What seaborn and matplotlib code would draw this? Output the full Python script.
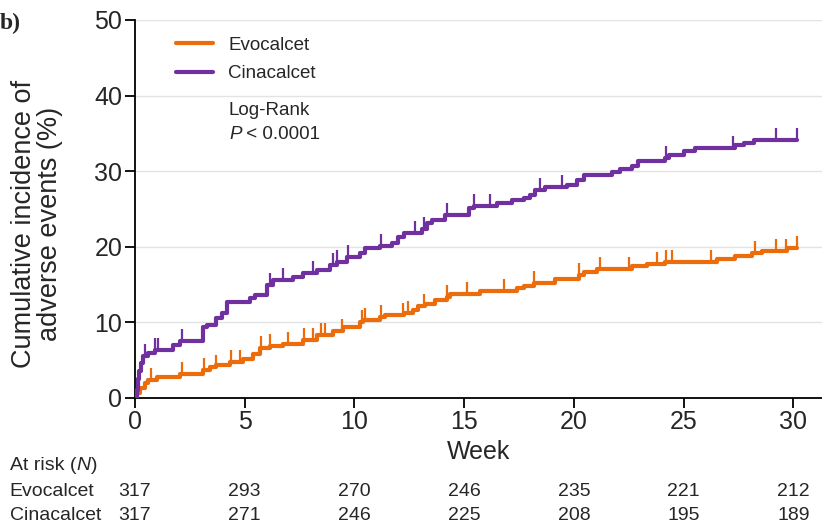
import numpy as np
import matplotlib
matplotlib.use("Agg")
import matplotlib.pyplot as plt
import matplotlib.transforms as mtransforms
from matplotlib.path import Path
import pandas as pd
import seaborn as sns

# ------------------------------
# Data
# ------------------------------
evo_t = [0, 0.08, 0.23, 0.46, 0.61, 0.99, 2.05, 3.11, 3.42, 3.72, 4.33, 4.94, 5.39, 5.7,
         6.15, 6.76, 7.67, 8.28, 9.04, 9.5, 10.26, 10.41, 11.17, 11.4, 12.24, 12.69, 12.92,
         13.22, 13.68, 14.21, 14.36, 15.73, 17.4, 17.71, 18.16, 19.15, 20.21, 20.44, 21.05,
         22.64, 23.32, 24.16, 26.51, 27.35, 28.11, 28.56, 29.7, 30.15]
evo_y = [0, 0.6, 1.3, 2.0, 2.4, 2.8, 3.2, 3.7, 4.1, 4.4, 4.7, 5.2, 5.8, 6.6,
         6.9, 7.2, 7.7, 8.3, 8.8, 9.4, 10.1, 10.3, 10.7, 11.0, 11.3, 11.6, 12.1,
         12.4, 12.9, 13.4, 13.8, 14.1, 14.5, 14.8, 15.2, 15.8, 16.3, 16.6, 17.0,
         17.4, 17.7, 18.0, 18.4, 18.8, 19.2, 19.5, 19.9, 19.9]
evo_cens = [0.73, 2.15, 3.15, 3.69, 4.4, 4.8, 5.73, 6.18, 7.0, 7.7, 8.13, 8.48, 8.66, 9.43,
            10.34, 10.49, 11.2, 12.2, 12.46, 13.19, 14.21, 15.15, 16.8, 18.19, 20.21, 21.17,
            22.51, 23.8, 24.2, 24.49, 26.24, 28.23, 29.22, 29.66, 30.15]

cin_t = [0, 0.1, 0.15, 0.2, 0.3, 0.38, 0.6, 0.9, 1.75, 2.05, 3.1, 3.27, 3.72, 3.95, 4.18,
         5.24, 5.47, 6.0, 6.3, 7.21, 7.67, 8.28, 8.89, 9.19, 9.65, 10.26, 10.49, 11.17,
         11.7, 12.01, 12.24, 13.07, 13.3, 13.53, 14.14, 15.2, 15.43, 16.49, 17.18, 17.71,
         18.01, 18.24, 18.7, 19.68, 20.14, 20.44, 21.72, 22.1, 22.64, 22.94, 24.16, 24.31,
         25.0, 25.52, 27.35, 27.73, 28.18, 30.15]
cin_y = [0, 1.0, 2.5, 3.5, 4.6, 5.5, 6.0, 6.3, 7.0, 7.5, 9.4, 9.6, 10.6, 11.2, 12.7,
         13.2, 13.6, 15.0, 15.6, 16.0, 16.5, 16.9, 17.6, 18.0, 18.7, 19.2, 19.8, 20.1,
         20.5, 21.3, 21.8, 22.4, 23.1, 23.5, 24.2, 25.1, 25.4, 25.8, 26.2, 26.5,
         26.9, 27.5, 27.9, 28.2, 28.8, 29.5, 29.9, 30.3, 30.7, 31.3, 31.8, 32.1,
         32.6, 33.0, 33.4, 33.7, 34.1, 34.1]
cin_cens = [0.46, 0.91, 1.06, 2.13, 6.15, 6.76, 8.13, 9.04, 9.19, 9.72, 11.2, 12.74, 13.15,
            14.21, 15.47, 16.19, 18.47, 19.48, 24.2, 27.24, 29.2, 30.15]

risk_weeks = [0, 5, 10, 15, 20, 25, 30]
evo_risk = [317, 293, 270, 246, 235, 221, 212]
cin_risk = [317, 271, 246, 225, 208, 195, 189]

ORANGE = "#EC6C0C"
PURPLE = "#7030A0"

sns.set_style("ticks")
plt.rcParams["font.family"] = ["Liberation Sans", "DejaVu Sans"]

fig = plt.figure(figsize=(8.22, 5.25), dpi=100)
ax = fig.add_axes([0.164, 0.242, 0.836, 0.72])

# censor mark: a short upward stroke
tick_marker = Path([(0, 0), (0, 1)], [Path.MOVETO, Path.LINETO])


def step_value(times, vals, at):
    idx = np.searchsorted(times, at, side="right") - 1
    return np.asarray(vals)[np.clip(idx, 0, len(vals) - 1)]


for name, t, y, cens, col in [("Evocalcet", evo_t, evo_y, evo_cens, ORANGE),
                              ("Cinacalcet", cin_t, cin_y, cin_cens, PURPLE)]:
    df = pd.DataFrame({"week": t, "cum": y})
    sns.lineplot(data=df, x="week", y="cum", drawstyle="steps-post", color=col,
                 linewidth=3, estimator=None, ax=ax, label=name, zorder=3)
    cy = step_value(np.array(t), y, np.array(cens))
    ax.plot(cens, cy, linestyle="none", marker=tick_marker, markersize=17,
            markeredgewidth=1.6, color=col, zorder=3)

ax.set_xlim(0, 31.3)
ax.set_ylim(0, 50)
ax.set_xticks(risk_weeks)
ax.set_yticks([0, 10, 20, 30, 40, 50])
ax.yaxis.grid(True, color="#e3e3e3", linewidth=1)
ax.set_axisbelow(True)
sns.despine(ax=ax)
for side in ["left", "bottom"]:
    ax.spines[side].set_linewidth(1.3)
    ax.spines[side].set_color("black")
ax.tick_params(axis="both", labelsize=18, length=7, width=1.3, color="black", pad=2)
ax.set_xlabel("Week", fontsize=18, labelpad=4)
ax.set_ylabel("Cumulative incidence of\nadverse events (%)", fontsize=19.5,
              linespacing=1.0)
ax.yaxis.set_label_coords(-0.104, 0.46)

leg = ax.legend(loc="upper left", bbox_to_anchor=(0.035, 1.0), frameon=False,
                fontsize=13.5, handlelength=2.0, handletextpad=0.8, labelspacing=0.6)
for line in leg.get_lines():
    line.set_linewidth(3)

fig.canvas.draw()


def mixed_text(x, y, parts, transform, size):
    # place consecutive pieces of text, some of them italic, on one baseline
    for txt, style in parts:
        t = fig.text(x, y, txt, fontsize=size, style=style, va="baseline",
                     transform=transform)
        bb = t.get_window_extent().transformed(transform.inverted())
        x = bb.x1


mixed_text(0.137, 0.749, [("Log-Rank", "normal")], ax.transAxes, 13.5)
mixed_text(0.137, 0.685, [("P", "italic"), (" < 0.0001", "normal")], ax.transAxes, 13.5)

# at-risk table
trans = mtransforms.blended_transform_factory(ax.transData, fig.transFigure)
mixed_text(0.012, 0.105, [("At risk (", "normal"), ("N", "italic"), (")", "normal")],
           fig.transFigure, 14)
fig.text(0.012, 0.055, "Evocalcet", fontsize=14, va="baseline")
fig.text(0.012, 0.01, "Cinacalcet", fontsize=14, va="baseline")
for w, a, b in zip(risk_weeks, evo_risk, cin_risk):
    ax.text(w, 0.055, str(a), transform=trans, fontsize=14, ha="center", va="baseline")
    ax.text(w, 0.01, str(b), transform=trans, fontsize=14, ha="center", va="baseline")

fig.text(0.0, 0.975, "b)", fontsize=17, fontweight="bold", va="top",
         family=["Liberation Serif", "DejaVu Serif"])

fig.savefig("out.png", dpi=100)
